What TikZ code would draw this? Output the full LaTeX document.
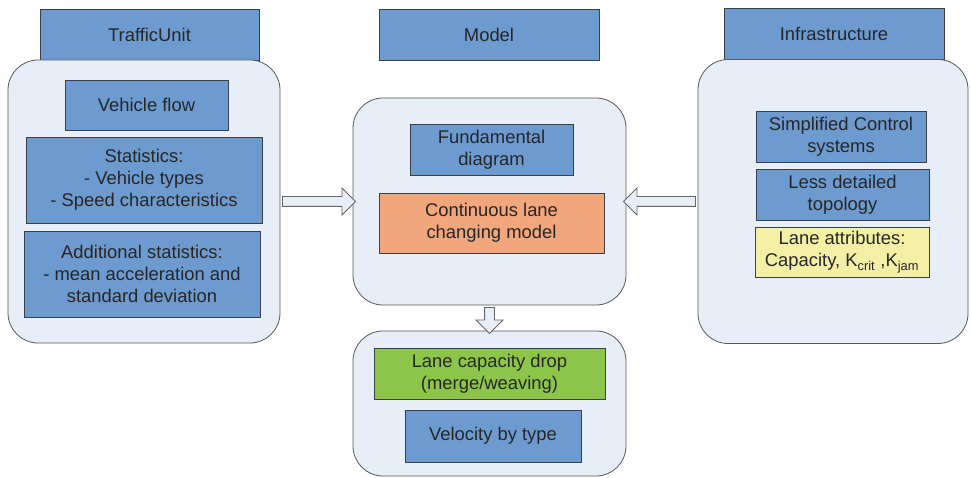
\documentclass[tikz,border=0pt]{standalone}
\usepackage{fontspec}
\setmainfont{Liberation Sans}
\usetikzlibrary{shapes.arrows}
\definecolor{hdblue}{HTML}{6D9BD0}
\definecolor{boxline}{HTML}{3A3F4A}
\definecolor{pale}{HTML}{E8EEF7}
\definecolor{orng}{HTML}{F1A67C}
\definecolor{lgreen}{HTML}{8DC54B}
\definecolor{lyellow}{HTML}{F3F0A6}
\definecolor{txt}{HTML}{262626}
\begin{document}
\begin{tikzpicture}[x=1pt, y=-1pt,
    every node/.style={font=\fontsize{18.4}{22}\selectfont, text=txt, align=center, inner sep=0pt},
    bbox/.style={draw=boxline, line width=0.8pt, fill=hdblue},
    grp/.style={draw=black!65, line width=0.8pt, fill=pale, rounded corners=30pt},
    blk/.style={single arrow, draw=black!60, fill=pale, line width=0.8pt,
        single arrow head extend=8.5pt, inner xsep=0pt, inner ysep=4.5pt,
        minimum width=0pt, sloped, allow upside down}]
    \useasboundingbox (0,0) rectangle (971,478);
    % TrafficUnit
    \draw (149.5,34.5) node[bbox, minimum width=219, minimum height=51](tuhd){TrafficUnit};
    \draw (144,201.5) node[grp, minimum width=272, minimum height=283](tubx){};
    \draw (146.5,105) node[bbox, minimum width=163, minimum height=50](vflow){Vehicle flow};
    \draw (144,180) node[bbox, minimum width=236, minimum height=86](stats){
        Statistics:\\
        - Vehicle types\\
        - Speed characteristics
    };
    \draw (142,274) node[bbox, minimum width=236, minimum height=86](addst){
        Additional statistics:\\
        - mean acceleration and\\
        standard deviation
    };
    % Model
    \draw (489,34.5) node[bbox, minimum width=220, minimum height=51](mdlhd){Model};
    \draw (489.5,201.5) node[grp, minimum width=273, minimum height=207](mdlbx){};
    \draw (491.5,149.5) node[bbox, minimum width=163, minimum height=51](fdiag){
        Fundamental\\
        diagram
    };
    \draw (491.5,223) node[bbox, fill=orng, minimum width=225, minimum height=60](clcm){
        Continuous lane\\
        changing model
    };
    % output
    \draw (489.5,403.5) node[grp, minimum width=273, minimum height=145](outbx){};
    \draw (489.5,373.5) node[bbox, fill=lgreen, minimum width=231, minimum height=51](lcap){
        Lane capacity drop\\
        (merge/weaving)
    };
    \draw (493,436) node[bbox, minimum width=176, minimum height=52](vtype){Velocity by type};
    % Infrastructure
    \draw (834,33.5) node[bbox, minimum width=220, minimum height=51](infhd){Infrastructure};
    \draw (833,201.5) node[grp, minimum width=270, minimum height=284](infbx){};
    \draw (841,136.5) node[bbox, minimum width=170, minimum height=51](sctrl){
        Simplified Control\\
        systems
    };
    \draw (842.5,194.5) node[bbox, minimum width=173, minimum height=51](ltopo){
        Less detailed\\
        topology
    };
    \draw (842,252) node[bbox, fill=lyellow, minimum width=174, minimum height=50](lattr){
        Lane attributes:\\
        Capacity, K\textsubscript{crit} ,K\textsubscript{jam}
    };
    \path (tubx.east) -- (mdlbx.west) node[blk, midway, minimum height=73](a1){};
    \path (infbx.west) -- (mdlbx.east) node[blk, midway, minimum height=72](a2){};
    \path (mdlbx.south) -- (outbx.north) node[blk, midway, minimum height=26](a3){};
\end{tikzpicture}
\end{document}
